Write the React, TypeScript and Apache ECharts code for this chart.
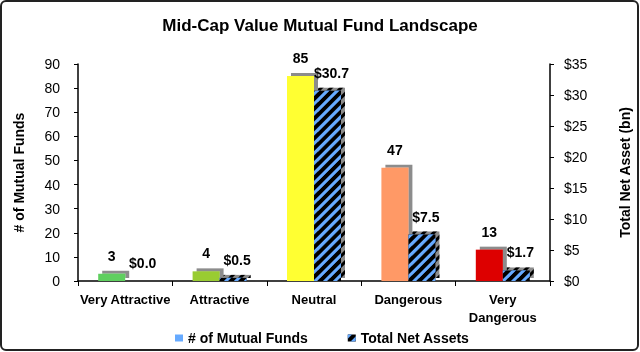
import React, { useEffect, useRef } from "react";
import * as echarts from "echarts";

const categories = ["Very Attractive", "Attractive", "Neutral", "Dangerous", "Very\nDangerous"];
const fundCounts = [3, 4, 85, 47, 13];
const netAssets = [0.0, 0.5, 30.7, 7.5, 1.7];
const fundColors = ["#5fcf5f", "#99cc33", "#ffff33", "#ff9966", "#dd0000"];
const leftTicks = { min: 0, max: 90, interval: 10 };
const rightTicks = { min: 0, max: 35, interval: 5 };

const FONT = "Liberation Sans, Arial, sans-serif";

export default function App() {
  const ref = useRef<HTMLDivElement>(null);
  useEffect(() => {
    document.body.style.margin = "0";
    const chart = echarts.init(ref.current!, null, { renderer: "svg" });
    const shadow = {
      shadowColor: "rgba(0,0,0,0.45)",
      shadowBlur: 1,
      shadowOffsetX: 4,
      shadowOffsetY: -3,
    };
    chart.setOption({
      animation: false,
      textStyle: { fontFamily: FONT },
      title: {
        text: "Mid-Cap Value Mutual Fund Landscape",
        left: "center",
        top: 12,
        textStyle: { fontFamily: FONT, fontSize: 17, fontWeight: "bold", color: "#000" },
      },
      graphic: [
        {
          type: "rect",
          shape: { x: 1, y: 1, width: 637, height: 349, r: 5 },
          style: { fill: "none", stroke: "#222", lineWidth: 2 },
          silent: true,
        },
      ],
      legend: {
        top: 326,
        left: 170,
        icon: "rect",
        itemWidth: 8,
        itemHeight: 7,
        itemGap: 40,
        textStyle: { fontFamily: FONT, fontSize: 14, fontWeight: "bold", color: "#000" },
        data: [
          { name: "# of Mutual Funds", itemStyle: { color: "#66aaff" } },
          { name: "Total Net Assets" },
        ],
      },
      grid: { left: 78, right: 88, top: 64, bottom: 71 },
      xAxis: {
        type: "category",
        data: categories,
        axisLine: { lineStyle: { color: "#000", width: 1.5 } },
        axisTick: { show: true, length: 5, lineStyle: { color: "#000" } },
        axisLabel: {
          fontFamily: FONT,
          fontSize: 13,
          fontWeight: "bold",
          color: "#000",
          margin: 9,
          lineHeight: 18,
          interval: 0,
        },
      },
      yAxis: [
        {
          type: "value",
          ...leftTicks,
          name: "# of Mutual Funds",
          nameLocation: "middle",
          nameGap: 52,
          nameTextStyle: { fontFamily: FONT, fontSize: 14, fontWeight: "bold", color: "#000" },
          axisLine: { show: true, lineStyle: { color: "#000", width: 1.5 } },
          axisTick: { show: true, length: 4, lineStyle: { color: "#000" } },
          axisLabel: { fontFamily: FONT, fontSize: 14, color: "#000", margin: 18 },
          splitLine: { show: false },
        },
        {
          type: "value",
          ...rightTicks,
          name: "Total Net Asset (bn)",
          nameLocation: "middle",
          nameGap: 68,
          nameRotate: 90,
          nameTextStyle: { fontFamily: FONT, fontSize: 14, fontWeight: "bold", color: "#000" },
          position: "right",
          axisLine: { show: true, lineStyle: { color: "#000", width: 1.5 } },
          axisTick: { show: true, length: 4, lineStyle: { color: "#000" } },
          axisLabel: { fontFamily: FONT, fontSize: 14, color: "#000", margin: 14, formatter: "${value}" },
          splitLine: { show: false },
        },
      ],
      series: [
        {
          name: "# of Mutual Funds",
          type: "bar",
          yAxisIndex: 0,
          barWidth: 27,
          barGap: "0%",
          itemStyle: { color: "#66aaff", ...shadow },
          data: fundCounts.map((v, i) => ({ value: v, itemStyle: { color: fundColors[i], ...shadow } })),
          label: {
            show: true,
            position: "top",
            distance: 11,
            fontFamily: FONT,
            fontSize: 14,
            fontWeight: "bold",
            color: "#000",
          },
        },
        {
          name: "Total Net Assets",
          type: "bar",
          yAxisIndex: 1,
          barWidth: 27,
          barGap: "0%",
          itemStyle: {
            color: "#000",
            ...shadow,
            decal: {
              symbol: "rect",
              symbolSize: 1,
              color: "#66aaff",
              dashArrayX: [1, 0],
              dashArrayY: [2.5, 3.5],
              rotation: -Math.PI / 4,
            },
          },
          data: netAssets,
          label: {
            show: true,
            position: "top",
            distance: 11,
            offset: [4, 0],
            fontFamily: FONT,
            fontSize: 14,
            fontWeight: "bold",
            color: "#000",
            formatter: (p: any) => "$" + Number(p.value).toFixed(1),
          },
        },
      ],
    });
    return () => chart.dispose();
  }, []);
  return <div ref={ref} style={{ position: "fixed", left: 0, top: 0, width: 640, height: 352 }} />;
}
